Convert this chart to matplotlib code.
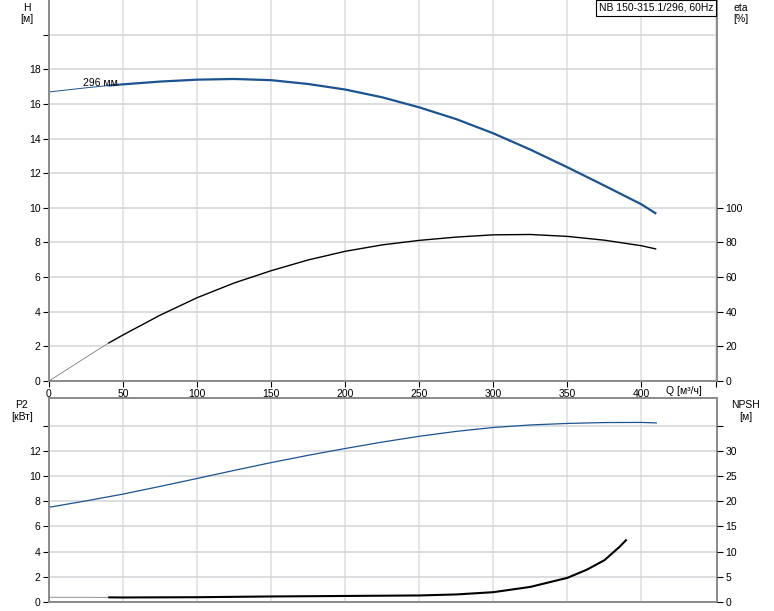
import matplotlib
matplotlib.use('Agg')
import matplotlib.pyplot as plt

plt.rcParams['font.family'] = ['Liberation Sans', 'DejaVu Sans']
plt.rcParams['font.size'] = 7.5

# head curve H [m]
q_h = [0, 25, 40, 50, 75, 100, 125, 150, 175, 200, 225, 250, 275, 300, 325, 350, 375, 400, 410]
h = [16.69, 16.93, 17.06, 17.13, 17.29, 17.40, 17.44, 17.37, 17.15, 16.83, 16.38, 15.80,
     15.12, 14.30, 13.36, 12.34, 11.28, 10.20, 9.66]

# efficiency eta [%]
q_eta = [0, 25, 40, 50, 75, 100, 125, 150, 175, 200, 225, 250, 275, 300, 325, 350, 375, 400, 410]
eta = [0, 13.7, 21.8, 26.6, 38.0, 48.1, 56.6, 63.7, 69.9, 74.9, 78.6, 81.2, 83.1, 84.4,
       84.6, 83.5, 81.3, 78.1, 76.2]

# power P2 [kW]
q_p2 = [0, 25, 50, 75, 100, 125, 150, 175, 200, 225, 250, 275, 300, 325, 350, 375, 400, 410]
p2 = [7.52, 8.03, 8.57, 9.18, 9.81, 10.45, 11.07, 11.65, 12.19, 12.70, 13.16, 13.55, 13.86,
      14.06, 14.18, 14.25, 14.26, 14.22]

# NPSH [m]
q_npsh = [0, 25, 40, 50, 100, 150, 200, 250, 275, 300, 325, 350, 363, 375, 385, 390]
npsh = [0.95, 0.95, 0.92, 0.90, 0.95, 1.10, 1.20, 1.30, 1.50, 1.95, 3.0, 4.8, 6.4, 8.3, 10.9, 12.4]

x_ticks = [0, 50, 100, 150, 200, 250, 300, 350, 400]
h_ticks = [0, 2, 4, 6, 8, 10, 12, 14, 16, 18, 20]
eta_ticks = [0, 20, 40, 60, 80, 100]
p2_ticks = [0, 2, 4, 6, 8, 10, 12, 14]
npsh_ticks = [0, 5, 10, 15, 20, 25, 30, 35]

title = 'NB 150-315.1/296, 60Hz'
blue = '#1b5391'
spine_c = '#8a8a8a'
W, H = 774, 611

fig = plt.figure(figsize=(W / 100, H / 100), dpi=100)


def px(x0, y0, x1, y1):
    return [x0 / W, 1 - y1 / H, (x1 - x0) / W, (y1 - y0) / H]


def style(ax):
    for s in ax.spines.values():
        s.set_color(spine_c)
        s.set_linewidth(1.4)
    ax.tick_params(length=4, width=0.8, color='black', pad=2)
    ax.grid(True, axis='y', color='#d2d4d8', linewidth=1.1)
    ax.grid(True, axis='x', color='#e2e2e4', linewidth=1.2)
    ax.set_axisbelow(True)


split = 2  # index of Q=40, where the thin part ends

# ---- top panel ----
ax1 = fig.add_axes(px(49, 0, 717, 381))
style(ax1)
ax1.spines['top'].set_visible(False)
ax1.set_xlim(0, 451)
ax1.set_ylim(0, 22)
ax1.set_xticks(x_ticks + [450])
ax1.set_xticklabels([str(v) for v in x_ticks] + [''])
ax1.set_yticks(h_ticks)
ax1.set_yticklabels([str(v) for v in h_ticks[:-1]] + [''])
ax1.plot(q_h[:split + 1], h[:split + 1], color=blue, lw=0.7)
ax1.plot(q_h[split:], h[split:], color=blue, lw=1.6, solid_capstyle='butt')
ax1.text(23, 17.2, '296 мм', fontsize=7.5, va='center', ha='left')

ax1e = ax1.twinx()
ax1e.set_ylim(0, 220)
ax1e.set_yticks(eta_ticks)
for s in ax1e.spines.values():
    s.set_visible(False)
ax1e.tick_params(length=4, width=0.8, pad=2)
ax1e.plot(q_eta[:split + 1], eta[:split + 1], color='#666666', lw=0.5)
ax1e.plot(q_eta[split:], eta[split:], color='black', lw=1.0, solid_capstyle='butt')

fig.text(666 / W, 1 - 391 / H, 'Q [м³/ч]', ha='left', va='center', fontsize=7.5)
fig.text(27 / W, 1 - 8 / H, 'H', ha='center', va='center', fontsize=7.5)
fig.text(27 / W, 1 - 19 / H, '[м]', ha='center', va='center', fontsize=7.5)
fig.text(741 / W, 1 - 8 / H, 'eta', ha='center', va='center', fontsize=7.5)
fig.text(741 / W, 1 - 19 / H, '[%]', ha='center', va='center', fontsize=7.5)
fig.text(656 / W, 1 - 8 / H, title, ha='center', va='center', fontsize=7.5,
         bbox=dict(boxstyle='square,pad=0.25', fc='white', ec='black', lw=0.8))

# ---- bottom panel ----
ax2 = fig.add_axes(px(49, 398, 717, 602))
style(ax2)
ax2.set_xlim(0, 451)
ax2.set_ylim(0, 16.2)
ax2.set_xticks(x_ticks)
ax2.tick_params(axis='x', length=0, labelbottom=False)
ax2.set_yticks(p2_ticks)
ax2.set_yticklabels([str(v) for v in p2_ticks[:-1]] + [''])
ax2.plot(q_p2, p2, color=blue, lw=0.9)

ax2n = ax2.twinx()
ax2n.set_ylim(0, 16.2 * 2.5)
ax2n.set_yticks(npsh_ticks)
ax2n.set_yticklabels([str(v) for v in npsh_ticks[:-1]] + [''])
for s in ax2n.spines.values():
    s.set_visible(False)
ax2n.tick_params(length=4, width=0.8, pad=2)
ax2n.plot(q_npsh[:split + 1], npsh[:split + 1], color='#666666', lw=0.5)
ax2n.plot(q_npsh[split:], npsh[split:], color='black', lw=1.5, solid_capstyle='butt')

fig.text(22 / W, 1 - 405 / H, 'P2', ha='center', va='center', fontsize=7.5)
fig.text(22 / W, 1 - 417 / H, '[кВт]', ha='center', va='center', fontsize=7.5)
fig.text(746 / W, 1 - 405 / H, 'NPSH', ha='center', va='center', fontsize=7.5)
fig.text(746 / W, 1 - 417 / H, '[м]', ha='center', va='center', fontsize=7.5)

fig.savefig('out.png', dpi=100)
